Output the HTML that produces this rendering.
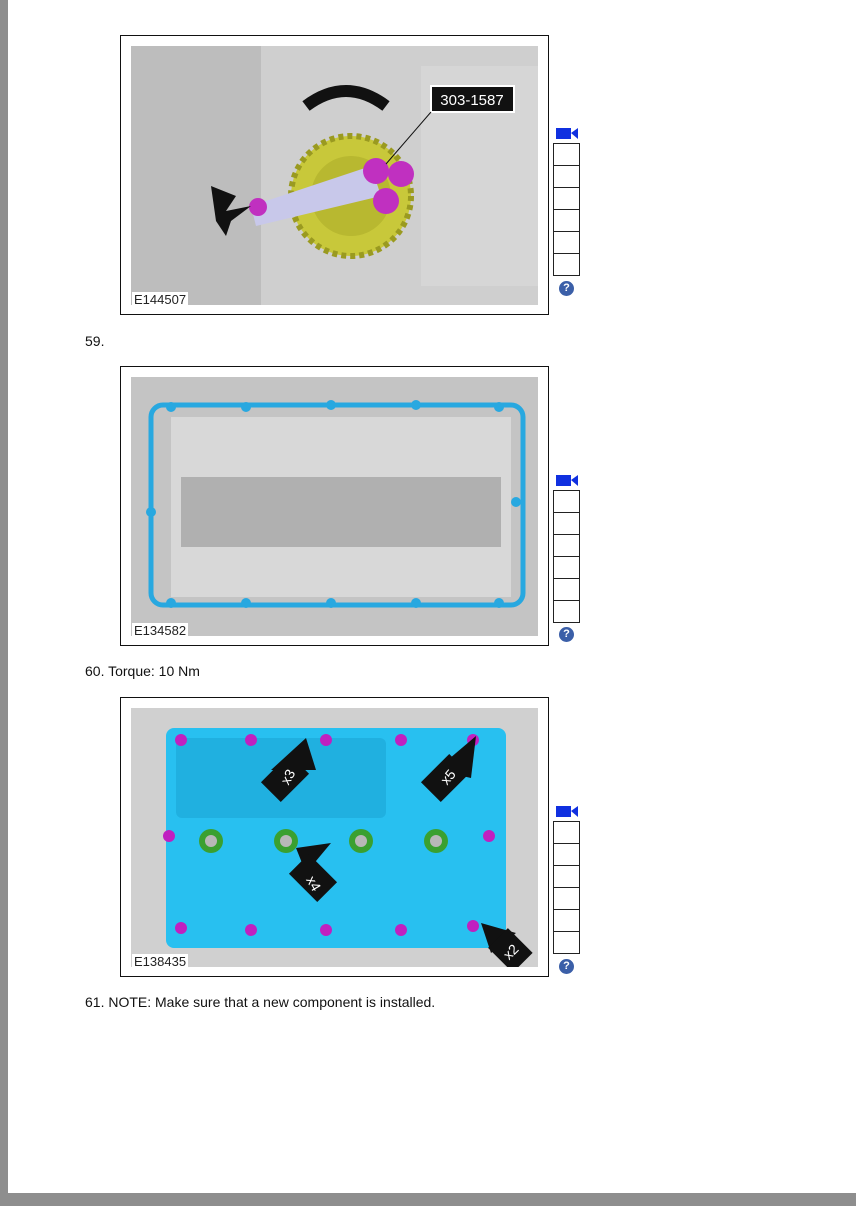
<!DOCTYPE html>
<html><head><style>
body{margin:0;width:856px;height:1210px;background:#fff;position:relative;overflow:hidden;font-family:"Liberation Sans",sans-serif;}
.abs{position:absolute}
.fig{position:absolute;left:120px;width:427px;height:278px;border:1px solid #111;background:#fff}
.img{position:absolute;left:10px;top:10px;width:407px;height:259px;background:#c8c8c8;overflow:hidden}
.lbl{position:absolute;left:11px;font-size:13px;color:#222;background:#fff;padding:0 2px;line-height:15px}
.side{position:absolute;left:553px;width:27px}
.side .cam{position:absolute;left:3px;top:0;width:22px;height:11px}
.side .bx{position:absolute;left:0;width:25px;height:21px;border:1.5px solid #222;background:#fff}
.side .q{position:absolute;left:6px;width:15px;height:15px;border-radius:50%;background:#3b5fa8;color:#fff;font-size:11px;font-weight:bold;text-align:center;line-height:15px}
.txt{position:absolute;left:85px;font-size:14px;color:#111}
</style></head><body>
<div class="abs" style="left:0;top:0;width:8px;height:1196px;background:#8e8e8e"></div>
<div class="abs" style="left:0;top:1193px;width:856px;height:13px;background:#8e8e8e"></div>

<!-- Figure 1 -->
<div class="fig" style="top:35px">
 <div class="img">
  <svg width="407" height="259">
   <rect width="407" height="259" fill="#cfcfcf"/>
   <rect x="0" y="0" width="130" height="259" fill="#bdbdbd"/>
   <rect x="290" y="20" width="117" height="220" fill="#d6d6d6"/>
   <circle cx="220" cy="150" r="60" fill="#c8c83a" stroke="#9a9a20" stroke-width="6" stroke-dasharray="5 4"/>
   <circle cx="220" cy="150" r="40" fill="#b8b830"/>
   <polygon points="120,160 240,120 250,150 125,180" fill="#c8c8ea"/>
   <circle cx="245" cy="125" r="13" fill="#c030c0"/><circle cx="270" cy="128" r="13" fill="#c030c0"/><circle cx="255" cy="155" r="13" fill="#c030c0"/>
   <circle cx="127" cy="161" r="9" fill="#c030c0"/>
   <polygon points="80,140 105,150 95,165 120,160 100,175 95,190 85,175" fill="#111"/>
   <path d="M175,60 Q215,30 255,60" stroke="#111" stroke-width="12" fill="none"/>
   <rect x="300" y="40" width="83" height="26" fill="#111" stroke="#fff" stroke-width="2"/>
   <text x="341" y="59" font-size="15" fill="#fff" text-anchor="middle" font-family="Liberation Sans">303-1587</text>
   <line x1="300" y1="66" x2="255" y2="118" stroke="#111"/>
  </svg>
 </div>
 <div class="lbl" style="top:256px">E144507</div>
</div>
<div class="side" style="top:128px">
 <svg class="cam" viewBox="0 0 22 11"><rect x="0" y="0" width="15" height="11" fill="#1030e0"/><polygon points="15,5 22,0 22,11" fill="#1030e0"/></svg>
 <div class="bx" style="top:15px"></div><div class="bx" style="top:37px"></div><div class="bx" style="top:59px"></div><div class="bx" style="top:81px"></div><div class="bx" style="top:103px"></div><div class="bx" style="top:125px"></div>
 <div class="q" style="top:153px">?</div>
</div>
<div class="txt" style="top:333px">59.</div>

<!-- Figure 2 -->
<div class="fig" style="top:366px">
 <div class="img">
  <svg width="407" height="259">
   <rect width="407" height="259" fill="#c4c4c4"/>
   <rect x="40" y="40" width="340" height="180" fill="#d8d8d8"/>
   <rect x="50" y="100" width="320" height="70" fill="#b0b0b0"/>
   <rect x="20" y="28" width="372" height="200" rx="12" fill="none" stroke="#28a8e0" stroke-width="5"/>
   <g fill="#28a8e0"><circle cx="40" cy="30" r="5"/><circle cx="115" cy="30" r="5"/><circle cx="200" cy="28" r="5"/><circle cx="285" cy="28" r="5"/><circle cx="368" cy="30" r="5"/><circle cx="40" cy="226" r="5"/><circle cx="115" cy="226" r="5"/><circle cx="200" cy="226" r="5"/><circle cx="285" cy="226" r="5"/><circle cx="368" cy="226" r="5"/><circle cx="20" cy="135" r="5"/><circle cx="385" cy="125" r="5"/></g>
  </svg>
 </div>
 <div class="lbl" style="top:256px">E134582</div>
</div>
<div class="side" style="top:475px">
 <svg class="cam" viewBox="0 0 22 11"><rect x="0" y="0" width="15" height="11" fill="#1030e0"/><polygon points="15,5 22,0 22,11" fill="#1030e0"/></svg>
 <div class="bx" style="top:15px"></div><div class="bx" style="top:37px"></div><div class="bx" style="top:59px"></div><div class="bx" style="top:81px"></div><div class="bx" style="top:103px"></div><div class="bx" style="top:125px"></div>
 <div class="q" style="top:152px">?</div>
</div>
<div class="txt" style="top:663px">60. Torque: 10 Nm</div>

<!-- Figure 3 -->
<div class="fig" style="top:697px">
 <div class="img">
  <svg width="407" height="259">
   <rect width="407" height="259" fill="#d0d0d0"/>
   <rect x="35" y="20" width="340" height="220" rx="8" fill="#28c0f0"/>
   <rect x="45" y="30" width="210" height="80" rx="6" fill="#20b0e0"/>
   <g fill="#3aa030"><circle cx="80" cy="133" r="12"/><circle cx="155" cy="133" r="12"/><circle cx="230" cy="133" r="12"/><circle cx="305" cy="133" r="12"/></g>
   <g fill="#b8b8b8"><circle cx="80" cy="133" r="6"/><circle cx="155" cy="133" r="6"/><circle cx="230" cy="133" r="6"/><circle cx="305" cy="133" r="6"/></g>
   <g fill="#c020c0"><circle cx="50" cy="32" r="6"/><circle cx="120" cy="32" r="6"/><circle cx="195" cy="32" r="6"/><circle cx="270" cy="32" r="6"/><circle cx="342" cy="32" r="6"/><circle cx="38" cy="128" r="6"/><circle cx="358" cy="128" r="6"/><circle cx="50" cy="220" r="6"/><circle cx="120" cy="222" r="6"/><circle cx="195" cy="222" r="6"/><circle cx="270" cy="222" r="6"/><circle cx="342" cy="218" r="6"/></g>
   <g fill="#111"><polygon points="140,62 175,30 185,62"/><rect x="140" y="50" width="28" height="40" transform="rotate(45 154 70)"/>
   <polygon points="305,62 345,28 340,70"/><rect x="300" y="50" width="28" height="40" transform="rotate(45 314 70)"/>
   <polygon points="165,140 200,135 175,165"/><rect x="168" y="150" width="28" height="40" transform="rotate(-45 182 170)"/>
   <polygon points="350,215 385,225 360,245"/><rect x="365" y="225" width="28" height="35" transform="rotate(-45 379 242)"/></g>
   <g fill="#fff" font-size="14" font-family="Liberation Sans"><text x="150" y="75" transform="rotate(-60 156 70)">x3</text><text x="310" y="75" transform="rotate(-50 316 70)">x5</text><text x="178" y="178" transform="rotate(60 182 172)">x4</text><text x="372" y="250" transform="rotate(-45 378 244)">x2</text></g>
  </svg>
 </div>
 <div class="lbl" style="top:256px">E138435</div>
</div>
<div class="side" style="top:806px">
 <svg class="cam" viewBox="0 0 22 11"><rect x="0" y="0" width="15" height="11" fill="#1030e0"/><polygon points="15,5 22,0 22,11" fill="#1030e0"/></svg>
 <div class="bx" style="top:15px"></div><div class="bx" style="top:37px"></div><div class="bx" style="top:59px"></div><div class="bx" style="top:81px"></div><div class="bx" style="top:103px"></div><div class="bx" style="top:125px"></div>
 <div class="q" style="top:153px">?</div>
</div>
<div class="txt" style="top:994px">61. NOTE: Make sure that a new component is installed.</div>
</body></html>
